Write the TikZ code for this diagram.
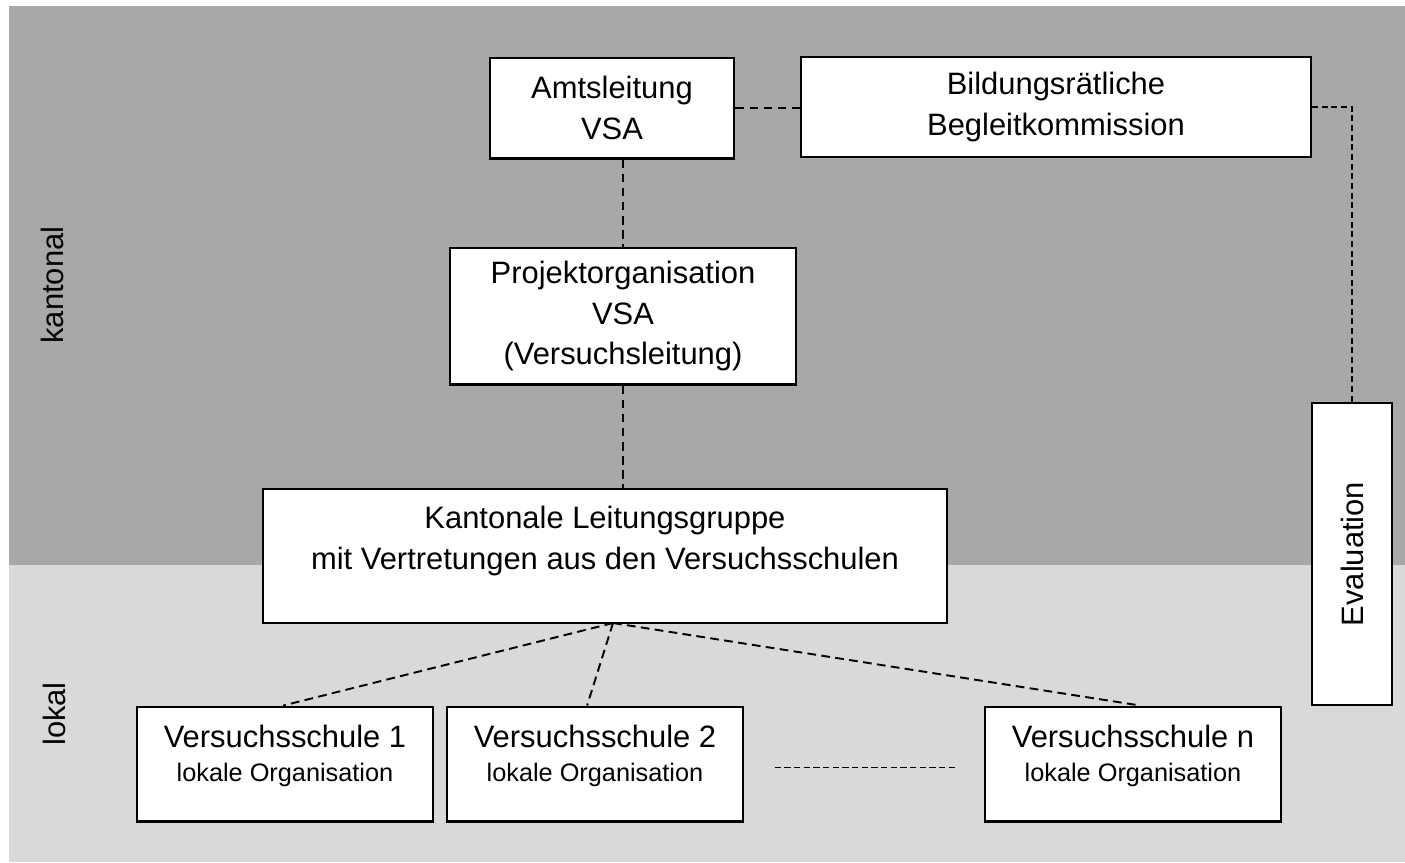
\documentclass[tikz,border=0pt]{standalone}
\usepackage{fontspec}
\setmainfont{Liberation Sans}
\usetikzlibrary{positioning}
\newcommand{\bigtxt}{\fontsize{17.6}{23.2}\selectfont}
\newcommand{\smalltxt}{\fontsize{14.4}{17}\selectfont}
\definecolor{kantgray}{RGB}{168,168,168}
\definecolor{lokalgray}{RGB}{217,217,217}

\tikzset{
  box/.style={draw=black, fill=white, line width=1.15pt, align=center, font=\bigtxt, inner sep=0pt},
  boxtext/.style={align=center, font=\bigtxt, inner sep=0pt},
  link/.style={line width=1.1pt, dash pattern=on 5pt off 3pt},
  finelink/.style={line width=1pt, dash pattern=on 3.5pt off 2pt},
  side/.style={font=\bigtxt, rotate=90}
}

\begin{document}
\begin{tikzpicture}[x=0.02cm, y=-0.02cm]
    \useasboundingbox (0,0) rectangle (1405,862);
    % background bands
    \fill[kantgray] (9,6) rectangle (1405,565); % kantonal level
    \fill[lokalgray] (9,565) rectangle (1405,862); % lokal level

    \node[side] (kantonal) at (52,285) {kantonal};
    \node[side] (lokal) at (54,714) {lokal};

    % kantonal boxes
    \node[box, minimum width=4.9cm, minimum height=2.02cm] (amt) at (612,108) {Amtsleitung\\VSA};
    \node[box, minimum width=10.2cm, minimum height=2cm] (bild) at (1056,107) {Bildungsr\"atliche\\Begleitkommission};
    \node[box, minimum width=6.94cm, minimum height=2.74cm] (proj) at (623,316) {Projektorganisation\\VSA\\(Versuchsleitung)};
    \node[box, minimum width=13.68cm, minimum height=2.68cm] (kant) at (605,556) {};
    \node[boxtext] (kanttext) at (605,541) {Kantonale Leitungsgruppe\\mit Vertretungen aus den Versuchsschulen};
    \node[box, minimum width=1.6cm, minimum height=6.04cm] (eval) at (1352,554) {};
    \node[boxtext, rotate=90] (evaltext) at (eval) {Evaluation};

    % lokal boxes
    \node[box, minimum width=5.92cm, minimum height=2.3cm] (vs1) at (285,764) {};
    \node[box, minimum width=5.92cm, minimum height=2.3cm] (vs2) at (595,764) {};
    \node[box, minimum width=5.92cm, minimum height=2.3cm] (vsn) at (1133,764) {};
    \node[boxtext] (vs1text) at (285,756) {Versuchsschule 1\\[-4pt]{\smalltxt lokale Organisation}};
    \node[boxtext] (vs2text) at (595,756) {Versuchsschule 2\\[-4pt]{\smalltxt lokale Organisation}};
    \node[boxtext] (vsntext) at (1133,756) {Versuchsschule n\\[-4pt]{\smalltxt lokale Organisation}};

    % connections
    \coordinate (hub) at (613,623);
    \draw[link] (amt.east) -- (amt.east -| bild.west);
    \draw[finelink] (bild.east) -| (eval.north);
    \draw[link] (amt.south -| proj.north) -- (proj.north);
    \draw[link] (proj.south) -- (proj.south |- kant.north);
    \draw[link] (hub) -- ([xshift=-1pt]vs1.north);
    \draw[link] (hub) -- ([xshift=-4.5pt]vs2.north);
    \draw[link] (hub) -- ([xshift=4pt]vsn.north);
    \draw[finelink] ([xshift=17.5pt, yshift=-2pt]vs2.east) -- ([xshift=-15pt, yshift=-2pt]vsn.west);
\end{tikzpicture}
\end{document}
